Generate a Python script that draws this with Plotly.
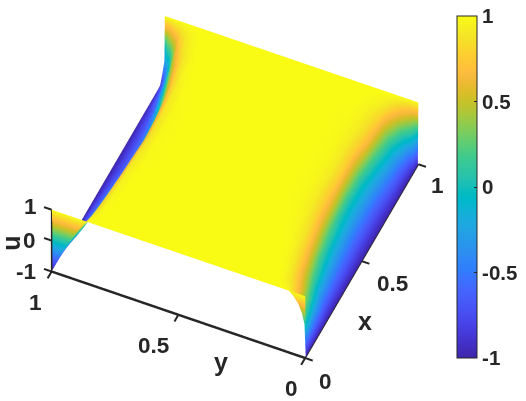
import plotly.graph_objects as go

x_vals = [0, .005, .1, .2, .3, .4, .5, .6, .7, .8, .9, .95, .995, 1]
y_vals = [0, .005, .015, .03, .05, .07, .09, .11, .13, .16, .2, .3, .5,
          .7, .79, .83, .86, .89, .92, .95, .97, .985, .995, 1]
u_vals = [
 [1]*24,
 [-1,.05,.38,.65,.85,.98,1,1,1,1,1,1,1, 1,1,1,.97,.69,.3,-.13,-.45,-.72,-.9,-1],
 [-1,-.7,-.22,.2,.52,.7,.85,.95,.99,1,1,1,1, 1,1,.98,.82,.45,0,-.38,-.62,-.8,-.93,-1],
 [-1,-.9,-.65,-.33,.1,.42,.7,.85,.94,.99,1,1,1, 1,1,.95,.74,.3,-.13,-.5,-.7,-.85,-.95,-1],
 [-1,-.92,-.75,-.5,-.17,.12,.47,.75,.88,.96,.99,1,1, 1,.99,.92,.65,.15,-.25,-.6,-.76,-.88,-.96,-1],
 [-1,-.94,-.8,-.6,-.33,-.07,.25,.58,.8,.93,.98,1,1, 1,.98,.88,.58,0,-.38,-.67,-.8,-.9,-.97,-1],
 [-1,-.95,-.84,-.66,-.42,-.17,.06,.5,.75,.91,.98,1,1, 1,.98,.85,.5,-.07,-.5,-.72,-.83,-.92,-.97,-1],
 [-1,-.95,-.85,-.68,-.45,-.22,0,.4,.77,.92,.98,1,1, 1,.98,.88,.55,0,-.5,-.72,-.83,-.92,-.97,-1],
 [-1,-.95,-.85,-.68,-.44,-.2,.03,.42,.76,.91,.98,1,1, 1,.99,.92,.7,.1,-.42,-.7,-.82,-.91,-.97,-1],
 [-1,-.94,-.8,-.6,-.33,-.08,.25,.65,.82,.93,.98,1,1, 1,1,.97,.85,.55,-.08,-.6,-.77,-.88,-.96,-1],
 [-1,-.93,-.75,-.48,-.17,.15,.48,.78,.88,.95,.99,1,1, 1,1,.99,.95,.85,.55,-.28,-.65,-.83,-.94,-1],
 [-1,-.88,-.6,-.2,.2,.55,.78,.9,.95,.98,1,1,1, 1,1,1,.98,.92,.78,.3,-.35,-.7,-.9,-1],
 [-1,-.1,.45,.7,.88,.96,.99,1,1,1,1,1,1, 1,1,1,1,1,.99,.95,.8,.5,-.2,-1],
 [1]*24,
]
tick_vals = [0, .5, 1]
u_ticks = [-1, 0, 1]
cbar_vals = [-1, -.5, 0, .5, 1]
cbar_text = ["-1", "-0.5", "0", "0.5", "1"]

parula = [
(0.2422,0.1504,0.6603),(0.2504,0.1650,0.7076),(0.2578,0.1818,0.7511),(0.2647,0.1978,0.7952),
(0.2706,0.2147,0.8364),(0.2751,0.2342,0.8710),(0.2783,0.2559,0.8991),(0.2803,0.2782,0.9221),
(0.2813,0.3006,0.9414),(0.2810,0.3228,0.9579),(0.2795,0.3447,0.9717),(0.2760,0.3667,0.9829),
(0.2699,0.3892,0.9906),(0.2602,0.4123,0.9952),(0.2440,0.4358,0.9988),(0.2206,0.4603,0.9973),
(0.1963,0.4847,0.9892),(0.1834,0.5074,0.9798),(0.1786,0.5289,0.9682),(0.1764,0.5499,0.9520),
(0.1687,0.5703,0.9359),(0.1540,0.5902,0.9218),(0.1460,0.6091,0.9079),(0.1380,0.6276,0.8973),
(0.1248,0.6459,0.8883),(0.1113,0.6635,0.8763),(0.0952,0.6798,0.8598),(0.0689,0.6948,0.8394),
(0.0297,0.7082,0.8163),(0.0036,0.7203,0.7917),(0.0067,0.7312,0.7660),(0.0433,0.7411,0.7394),
(0.0964,0.7500,0.7120),(0.1408,0.7584,0.6842),(0.1717,0.7670,0.6554),(0.1938,0.7758,0.6251),
(0.2161,0.7843,0.5923),(0.2470,0.7918,0.5567),(0.2906,0.7973,0.5188),(0.3406,0.8008,0.4789),
(0.3909,0.8029,0.4354),(0.4456,0.8024,0.3909),(0.5044,0.7993,0.3480),(0.5616,0.7942,0.3045),
(0.6174,0.7876,0.2612),(0.6720,0.7793,0.2227),(0.7242,0.7698,0.1910),(0.7738,0.7598,0.1646),
(0.8203,0.7498,0.1535),(0.8634,0.7406,0.1596),(0.9035,0.7330,0.1774),(0.9393,0.7288,0.2100),
(0.9728,0.7298,0.2394),(0.9956,0.7434,0.2371),(0.9970,0.7659,0.2199),(0.9952,0.7893,0.2028),
(0.9892,0.8136,0.1885),(0.9786,0.8386,0.1766),(0.9676,0.8639,0.1643),(0.9610,0.8890,0.1537),
(0.9597,0.9135,0.1423),(0.9628,0.9373,0.1265),(0.9691,0.9606,0.1064),(0.9769,0.9839,0.0805)]
scale = [[i/63, "rgb(%d,%d,%d)" % tuple(round(c*255) for c in p)] for i, p in enumerate(parula)]

INK = "#262626"
FONT = dict(family="Liberation Sans", size=20.5, color=INK, weight="bold")

fig = go.Figure()
fig.add_trace(go.Surface(
    x=x_vals, y=y_vals, z=[list(col) for col in zip(*u_vals)], colorscale=scale, cmin=-1, cmax=1,
    lighting=dict(ambient=1, diffuse=0, specular=0, roughness=1, fresnel=0),
    hoverinfo="skip",
    colorbar=dict(
        x=456.7/526, xanchor="left", y=(401-16)/401, yanchor="top", xpad=0, ypad=0,
        thicknessmode="pixels", thickness=19.5, lenmode="pixels", len=342,
        outlinewidth=1, outlinecolor=INK, borderwidth=0,
        tickmode="array", tickvals=cbar_vals, ticktext=cbar_text,
        ticks="inside", ticklen=3, tickcolor=INK, tickfont=FONT),
))

def seg(xs, ys, zs, w=5):
    fig.add_trace(go.Scatter3d(x=xs, y=ys, z=zs, mode="lines", showlegend=False, hoverinfo="skip",
                               line=dict(color=INK, width=w)))

seg([0, 0], [1, 0], [-1, -1])
seg([0, 1], [0, 0], [-1, -1], 3)
seg([0, 0], [1, 1], [-1, 1], 3)
for t in tick_vals:
    seg([0, -.035], [t, t], [-1, -1], 4)
    seg([t, t], [0, -.03], [-1, -1], 4)
for t in u_ticks:
    seg([0, 0], [1, 1.03], [t, t], 4)

def label(x, y, z, text, dx, dy, angle=0, size=22.5):
    f = dict(FONT); f["size"] = size
    return dict(x=x, y=y, z=z, text=text, showarrow=False, xshift=dx, yshift=-dy,
                xanchor="center", yanchor="middle", font=f, textangle=angle)

anns = [
    label(0, 0, -1, "0", 20, 23), label(.5, 0, -1, "0.5", 31, 22), label(1, 0, -1, "1", 19, 21),
    label(0, 1, -1, "1", -16, 31), label(0, .5, -1, "0.5", -25, 31), label(0, 0, -1, "0", -14, 30),
    label(0, 1, 1, "1", -21, -3), label(0, 1, 0, "0", -22, 0), label(0, 1, -1, "-1", -26, 0),
    label(.5, 0, -1, "x", 3, 60, size=25), label(0, .5, -1, "y", 43, 47, size=25),
    label(0, 1, 0, "u", -40, 2.5, angle=-90, size=25),
]

hide = dict(visible=False, showgrid=False, zeroline=False, showbackground=False, showspikes=False)
R = 1.25
K = 1.485
fig.update_layout(
    width=526, height=401, margin=dict(l=0, r=0, t=0, b=0),
    paper_bgcolor="white", plot_bgcolor="white", showlegend=False,
    scene=dict(
        domain=dict(x=[0, 470/526], y=[27/401, 1]),
        xaxis=dict(range=[-.2, 1.2], **hide),
        yaxis=dict(range=[-.2, 1.2], **hide),
        zaxis=dict(range=[-1.4, 1.4], **hide),
        aspectmode="manual", aspectratio=dict(x=1.4*K, y=1.4*K, z=.483*K),
        camera=dict(projection=dict(type="orthographic"),
                    up=dict(x=0, y=0, z=1), center=dict(x=0, y=0, z=0),
                    eye=dict(x=-.589*R, y=-.263*R, z=.764*R)),
        annotations=anns,
    ),
)
fig.write_html("out.html", config=dict(displayModeBar=False),
               post_script="document.body.style.margin='0';")
